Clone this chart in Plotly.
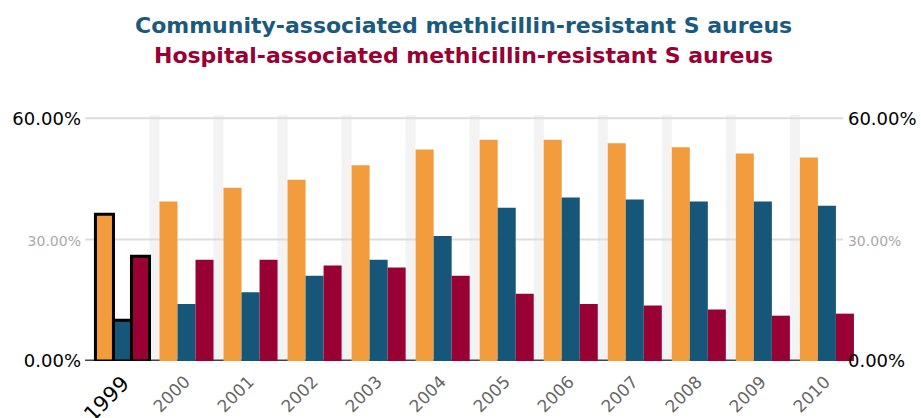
import plotly.graph_objects as go

years = ["1999", "2000", "2001", "2002", "2003", "2004", "2005", "2006", "2007", "2008", "2009", "2010"]
overall = [36.3, 39.4, 42.8, 44.8, 48.4, 52.3, 54.7, 54.7, 53.8, 52.8, 51.3, 50.3]
community = [10.1, 14.1, 17.0, 21.1, 25.0, 30.9, 37.9, 40.4, 39.9, 39.4, 39.4, 38.4]
hospital = [25.9, 25.0, 25.0, 23.6, 23.1, 21.1, 16.6, 14.1, 13.7, 12.7, 11.2, 11.7]

highlight = "1999"
tick_vals = [0, 30, 60]
tick_text = ["0.00%", "30.00%", "60.00%"]
title_lines = ["Community-associated methicillin-resistant S aureus",
               "Hospital-associated methicillin-resistant S aureus"]

ORANGE = "#f29c3d"
BLUE = "#155679"
RED = "#990033"
TITLE_BLUE = "#1a5a7e"
BAND = "#f3f3f3"
bargap = 0.156
grid_end = 0.982  # fraction of plot width where grid lines stop

line_w = [3 if y == highlight else 0 for y in years]

fig = go.Figure()
for name, vals, col in [("Overall", overall, ORANGE), ("Community", community, BLUE), ("Hospital", hospital, RED)]:
    fig.add_trace(go.Bar(
        x=years, y=vals, name=name,
        marker=dict(color=col, line=dict(color="#000000", width=line_w)),
        showlegend=False,
    ))

# invisible trace to anchor right axis
fig.add_trace(go.Scatter(x=[years[0]], y=[0], yaxis="y2", mode="markers",
                         marker=dict(opacity=0), showlegend=False, hoverinfo="skip"))

shapes = []
# light grey bands filling gaps between groups
for i in range(len(years) - 1):
    c = i + 0.5
    shapes.append(dict(type="rect", xref="x", yref="paper", x0=c - bargap / 2, x1=c + bargap / 2,
                       y0=0, y1=1, fillcolor=BAND, line=dict(width=0), layer="below"))
# grid lines and zero line (shorter than plot area on the right)
for v in tick_vals:
    if v == 0:
        shapes.append(dict(type="line", xref="paper", yref="y", x0=0, x1=grid_end + 0.003, y0=v, y1=v,
                           line=dict(color="#444444", width=3), layer="below"))
    else:
        shapes.append(dict(type="line", xref="paper", yref="y", x0=0, x1=grid_end, y0=v, y1=v,
                           line=dict(color="#dddddd", width=2), layer="below"))

def styled(t):
    if t == "30.00%":
        return '<span style="font-size:14px;color:#aaaaaa">' + t + '</span>'
    return t

annotations = []
# x labels as rotated annotations
for i, y in enumerate(years):
    hl = (y == highlight)
    annotations.append(dict(
        x=i, xref="x", y=0, yref="paper", text=y, showarrow=False,
        textangle=-45, xanchor="right", yanchor="top",
        xshift=14 if hl else 10, yshift=-8,
        font=dict(family="DejaVu Sans", size=21 if hl else 17,
                  color="#000000" if hl else "#666666"),
    ))

# two-line coloured title
for txt, col, ypos in [(title_lines[0], TITLE_BLUE, 1.362), (title_lines[1], RED, 1.242)]:
    annotations.append(dict(
        x=0.49, xref="paper", y=ypos, yref="paper", text="<b>" + txt + "</b>",
        showarrow=False, xanchor="center", yanchor="middle",
        font=dict(family="DejaVu Sans", size=22, color=col),
    ))

fig.update_layout(
    width=921, height=418,
    margin=dict(l=85, r=64, t=115, b=57),
    paper_bgcolor="white", plot_bgcolor="white",
    barmode="group", bargap=bargap, bargroupgap=0,
    shapes=shapes, annotations=annotations,
    xaxis=dict(type="category", range=[-0.585, 11.47],
               showticklabels=False, automargin=False,
               showgrid=False, zeroline=False, showline=False, ticks=""),
    yaxis=dict(range=[0, 60.8], tickmode="array", tickvals=tick_vals,
               ticktext=[styled(t) for t in tick_text], automargin=False,
               tickfont=dict(family="DejaVu Sans", size=18, color="#000000"),
               showgrid=False, zeroline=False, showline=False, ticks="",
               ticklabelstandoff=3),
    yaxis2=dict(overlaying="y", side="right", anchor="free", position=0.987,
                range=[0, 60.8], tickmode="array", tickvals=tick_vals,
                ticktext=[styled(t) for t in tick_text], automargin=False,
                tickfont=dict(family="DejaVu Sans", size=18, color="#000000"),
                showgrid=False, zeroline=False, showline=False, ticks=""),
)

fig.write_html("out.html", config={"displayModeBar": False},
               post_script="document.body.style.margin='0';")
